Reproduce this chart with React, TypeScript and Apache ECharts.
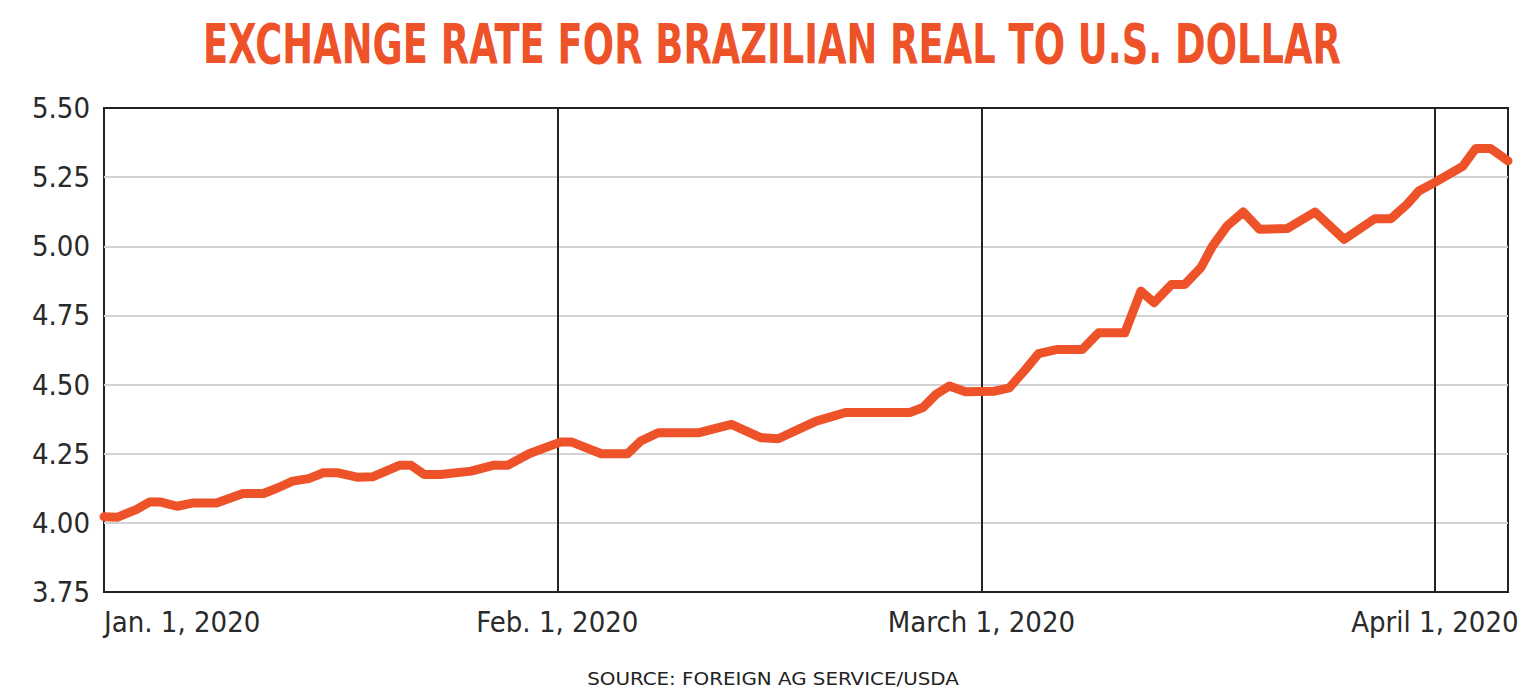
import React, { useEffect, useRef } from "react";
import * as echarts from "echarts";

// Day offsets from Jan. 1, 2020
const days = [
  0, 0.9, 2.2, 3.1, 3.9, 5.0, 6.1, 7.7, 9.5, 10.9, 11.9, 12.9, 14.0, 15.0, 16.0, 17.3, 18.4,
  20.2, 21.0, 21.9, 23.0, 25.1, 26.6, 27.6, 29.1, 31.2, 32.0, 34.0, 35.8, 36.7, 37.9, 40.7,
  42.9, 44.9, 46.1, 47.4, 48.7, 49.7, 50.7, 55.1, 56.0, 56.9, 57.8, 58.9, 60.9, 61.9, 63.0,
  63.9, 65.2, 66.9, 68.0, 69.8, 70.9, 71.8, 73.0, 73.9, 75.0, 75.8, 76.8, 77.9, 79.0, 80.9,
  82.8, 84.8, 86.9, 88.0, 89.1, 89.9, 91.0, 92.9, 93.8, 94.8, 96.0,
];
// BRL per USD
const rates = [
  4.022, 4.02, 4.048, 4.075, 4.075, 4.06, 4.072, 4.072, 4.106, 4.106, 4.127, 4.151, 4.16, 4.181,
  4.181, 4.165, 4.167, 4.208, 4.208, 4.175, 4.175, 4.187, 4.208, 4.208, 4.251, 4.292, 4.292,
  4.25, 4.25, 4.296, 4.326, 4.326, 4.356, 4.308, 4.304, 4.336, 4.368, 4.383, 4.399, 4.399,
  4.417, 4.465, 4.495, 4.474, 4.476, 4.488, 4.554, 4.612, 4.627, 4.627, 4.687, 4.687, 4.838,
  4.796, 4.862, 4.862, 4.923, 5.001, 5.074, 5.124, 5.062, 5.064, 5.124, 5.025, 5.1, 5.1,
  5.152, 5.2, 5.231, 5.289, 5.354, 5.354, 5.309,
];
const xTickValues = [0, 31, 60, 91];
const xTickLabels = ["Jan. 1, 2020", "Feb. 1, 2020", "March 1, 2020", "April 1, 2020"];
const monthLines = [31, 60, 91];
const yMin = 3.75;
const yMax = 5.5;
const yStep = 0.25;
const xMax = 96;

const TITLE = "EXCHANGE RATE FOR BRAZILIAN REAL TO U.S. DOLLAR";
const SOURCE = "SOURCE: FOREIGN AG SERVICE/USDA";

const NARROW = "'DejaVu Sans Condensed', 'Liberation Sans Narrow', 'DejaVu Sans', sans-serif";
const ORANGE = "#ee5228";

export default function App() {
  const ref = useRef<HTMLDivElement>(null);
  useEffect(() => {
    if (!ref.current) return;
    const chart = echarts.init(ref.current, null, { renderer: "svg" });
    const data = days.map((d, i) => [d, rates[i]]);
    chart.setOption({
      animation: false,
      backgroundColor: "#ffffff",
      graphic: [
        {
          type: "text",
          x: 772,
          y: 16,
          scaleX: 0.745,
          style: {
            text: TITLE,
            x: 0,
            y: 0,
            textAlign: "center",
            textVerticalAlign: "top",
            fontFamily: NARROW,
            fontWeight: "bold",
            fontSize: 55,
            fill: ORANGE,
          },
        },
        {
          type: "text",
          x: 773,
          y: 671,
          scaleX: 1.3,
          style: {
            text: SOURCE,
            x: 0,
            y: 0,
            textAlign: "center",
            textVerticalAlign: "top",
            fontFamily: "'DejaVu Sans Condensed', 'DejaVu Sans', sans-serif",
            fontSize: 17,
            fill: "#222",
          },
        },
      ],
      grid: {
        left: 104,
        right: 32,
        top: 108,
        bottom: 108,
        show: true,
        borderColor: "#222",
        borderWidth: 2,
        backgroundColor: "transparent",
      },
      xAxis: {
        type: "value",
        min: 0,
        max: xMax,
        axisLine: { show: false },
        axisTick: { show: false },
        splitLine: { show: false },
        axisLabel: {
          customValues: xTickValues,
          formatter: (v: number) => {
            const i = xTickValues.indexOf(Math.round(v));
            return i >= 0 ? xTickLabels[i] : "";
          },
          alignMinLabel: "left",
          fontFamily: NARROW,
          fontSize: 29,
          color: "#2a2a2a",
          margin: 15,
        },
      },
      yAxis: {
        type: "value",
        min: yMin,
        max: yMax,
        interval: yStep,
        axisLine: { show: false },
        axisTick: { show: false },
        axisLabel: {
          formatter: (v: number) => v.toFixed(2),
          fontFamily: NARROW,
          fontSize: 29,
          color: "#2a2a2a",
          margin: 14,
        },
        splitLine: {
          show: true,
          showMinLine: false,
          showMaxLine: false,
          lineStyle: { color: "#d2d2d4", width: 2 },
        },
      },
      series: [
        {
          type: "line",
          data: [],
          z: 1,
          markLine: {
            silent: true,
            symbol: "none",
            label: { show: false },
            lineStyle: { color: "#222", width: 2, type: "solid" },
            data: monthLines.map((m) => ({ xAxis: m })),
          },
        },
        {
          type: "line",
          data,
          z: 5,
          showSymbol: false,
          smooth: false,
          lineStyle: { color: ORANGE, width: 9, cap: "round", join: "round" },
          itemStyle: { color: ORANGE },
        },
      ],
    });
    return () => chart.dispose();
  }, []);
  return (
    <div
      ref={ref}
      style={{ position: "fixed", left: 0, top: 0, width: 1540, height: 700, background: "#fff" }}
    />
  );
}
